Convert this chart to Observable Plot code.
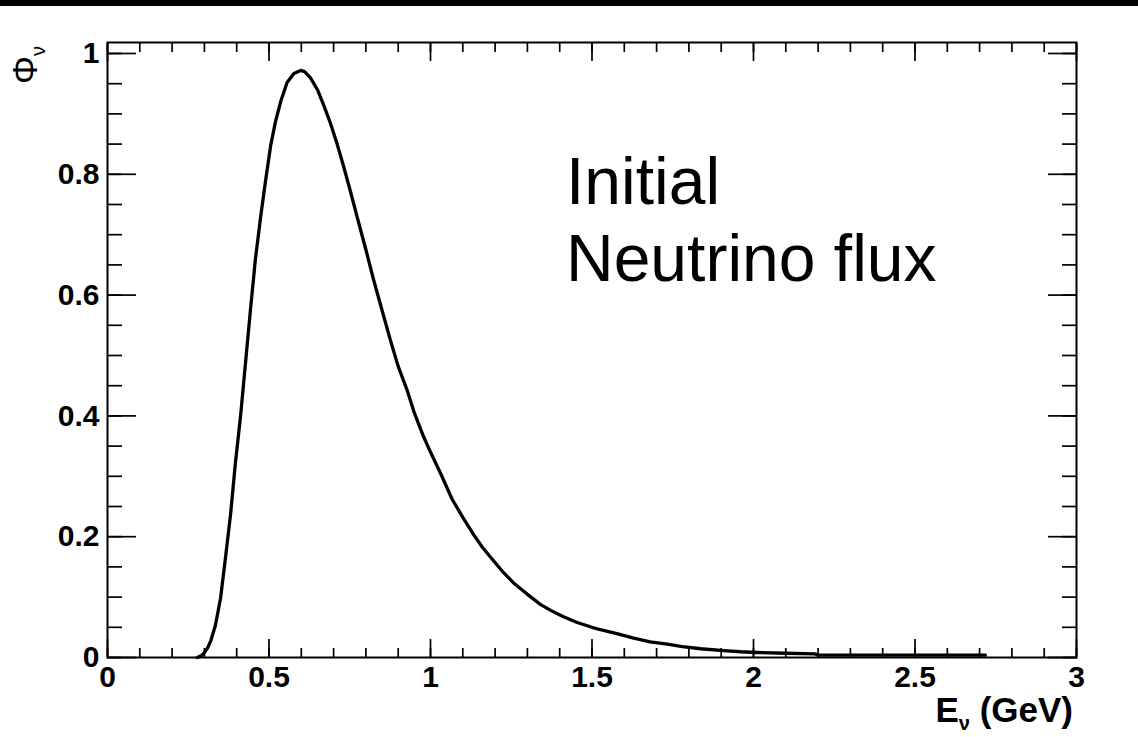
<!DOCTYPE html>
<html><head><meta charset="utf-8">
<script src="https://cdn.jsdelivr.net/npm/d3@7"></script>
<script src="https://cdn.jsdelivr.net/npm/@observablehq/plot@0.6"></script>
<style>
html,body{margin:0;padding:0;background:#fff;}
#wrap{position:relative;width:1138px;height:737px;}
#bar{position:absolute;top:0;left:0;width:1138px;height:6px;background:#000;}
</style></head><body><div id="wrap"><div id="chart"></div><div id="bar"></div></div>
<script>
// Neutrino energy (GeV) and flux values
const energy = [0.278,0.29,0.30,0.31,0.32,0.334,0.35,0.365,0.381,0.396,0.412,0.427,0.443,0.458,0.474,0.489,0.505,0.52,0.536,0.556,0.577,0.598,0.61,0.628,0.65,0.669,0.69,0.711,0.73,0.752,0.773,0.80,0.824,0.85,0.876,0.90,0.928,0.95,0.979,1.00,1.031,1.067,1.10,1.134,1.16,1.186,1.227,1.26,1.299,1.34,1.372,1.41,1.454,1.50,1.526,1.58,1.629,1.68,1.733,1.78,1.836,1.908,1.96,2.011,2.10,2.19,2.20,2.718];
const flux   = [0,0.003,0.008,0.016,0.028,0.053,0.098,0.164,0.237,0.322,0.40,0.486,0.578,0.66,0.729,0.788,0.847,0.887,0.920,0.952,0.967,0.972,0.970,0.960,0.940,0.915,0.885,0.850,0.815,0.772,0.729,0.675,0.625,0.575,0.525,0.482,0.442,0.405,0.365,0.340,0.305,0.262,0.232,0.203,0.183,0.166,0.140,0.122,0.105,0.088,0.078,0.068,0.058,0.050,0.046,0.039,0.032,0.026,0.022,0.018,0.0145,0.0115,0.0095,0.0083,0.007,0.006,0.004,0.004];

const xMajorTicks = [0,0.5,1,1.5,2,2.5,3];
const xTickLabels = ["0","0.5","1","1.5","2","2.5","3"];
const xMinorTicks = [0,0.1,0.2,0.3,0.4,0.5,0.6,0.7,0.8,0.9,1,1.1,1.2,1.3,1.4,1.5,1.6,1.7,1.8,1.9,2,2.1,2.2,2.3,2.4,2.5,2.6,2.7,2.8,2.9,3];
const yMajorTicks = [0,0.2,0.4,0.6,0.8,1];
const yTickLabels = ["0","0.2","0.4","0.6","0.8","1"];
const yMinorTicks = [0,0.05,0.1,0.15,0.2,0.25,0.3,0.35,0.4,0.45,0.5,0.55,0.6,0.65,0.7,0.75,0.8,0.85,0.9,0.95,1];
const annotation = ["Initial","Neutrino flux"];

const table = energy.map((e,i)=>({e, f: flux[i]}));
const FONT = "'Liberation Sans', Arial, Helvetica, sans-serif";
const tickStyle = {tickFormat: () => "", label: null, strokeWidth: 1.7};

const plot = Plot.plot({
  width: 1138, height: 737,
  marginLeft: 107, marginRight: 62, marginTop: 42, marginBottom: 80,
  x: {domain: [0, 3]},
  y: {domain: [0, 1.0182]},
  style: {fontFamily: FONT, background: "white", color: "black", overflow: "visible"},
  marks: [
    Plot.axisX({...tickStyle, anchor: "bottom", ticks: xMinorTicks, tickSize: -9}),
    Plot.axisX({...tickStyle, anchor: "bottom", ticks: xMajorTicks, tickSize: -18}),
    Plot.axisX({...tickStyle, anchor: "top", ticks: xMinorTicks, tickSize: -9}),
    Plot.axisX({...tickStyle, anchor: "top", ticks: xMajorTicks, tickSize: -18}),
    Plot.axisY({...tickStyle, anchor: "left", ticks: yMinorTicks, tickSize: -15}),
    Plot.axisY({...tickStyle, anchor: "left", ticks: yMajorTicks, tickSize: -29}),
    Plot.axisY({...tickStyle, anchor: "right", ticks: yMinorTicks, tickSize: -15}),
    Plot.axisY({...tickStyle, anchor: "right", ticks: yMajorTicks, tickSize: -29}),
    Plot.axisX({anchor: "bottom", ticks: xMajorTicks, tickSize: 0, tickPadding: 8,
      tickFormat: d => xTickLabels[xMajorTicks.indexOf(d)], label: null,
      fontSize: 30, fontWeight: "bold"}),
    Plot.axisY({anchor: "left", ticks: yMajorTicks, tickSize: 0, tickPadding: 8,
      tickFormat: d => yTickLabels[yMajorTicks.indexOf(d)], label: null,
      fontSize: 30, fontWeight: "bold"}),
    Plot.line(table, {x: "e", y: "f", stroke: "black", strokeWidth: 3.3, curve: "linear"}),
    Plot.frame({stroke: "black", strokeWidth: 2})
  ]
});
document.getElementById("chart").appendChild(plot);

const svg = d3.select(plot);
// y-axis title
const yt = svg.append("text")
  .attr("transform", "translate(37,46) rotate(-90)")
  .attr("text-anchor", "end")
  .attr("font-family", FONT).attr("font-size", 35).attr("fill", "black");
yt.append("tspan").text("Φ");
yt.append("tspan").attr("font-size", 20).attr("dy", 8).text("ν");
// x-axis title
const xt = svg.append("text")
  .attr("x", 1073).attr("y", 722)
  .attr("text-anchor", "end")
  .attr("font-family", FONT).attr("font-size", 35).attr("font-weight", "bold").attr("fill", "black");
xt.append("tspan").text("E");
xt.append("tspan").attr("font-size", 20).attr("dy", 8).text("ν");
xt.append("tspan").attr("dy", -8).text(" (GeV)");
// annotation
svg.append("g").attr("text-anchor", "start").selectAll("text").data(annotation).join("text")
  .attr("x", 566).attr("y", (d,i) => 204 + i*77)
  .attr("font-family", FONT).attr("font-size", 66).attr("fill", "black")
  .text(d => d);
</script></body></html>
